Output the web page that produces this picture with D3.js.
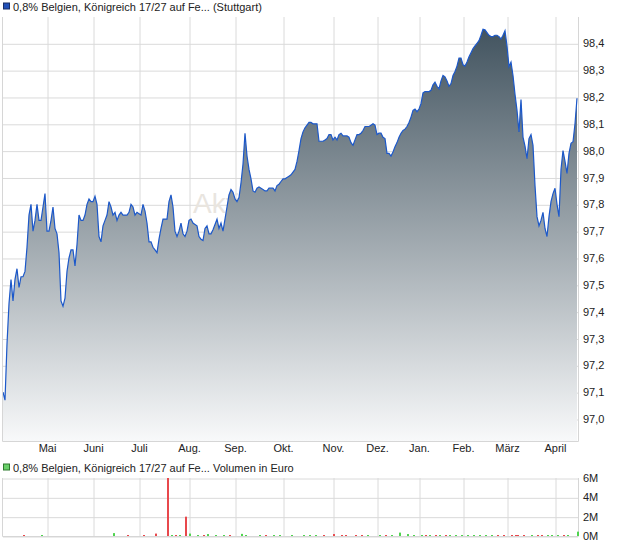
<!DOCTYPE html>
<html>
<head>
<meta charset="utf-8">
<script src="https://cdn.jsdelivr.net/npm/d3@7"></script>
<style>
  body { margin: 0; background: #fff; }
  text { font-family: "Liberation Sans", Arial, sans-serif; }
</style>
</head>
<body>
<div id="chart"></div>
<script>
// daily closes, one per trading day (Apr .. Apr)
var prices = [
  97.10, 97.07, 97.28, 97.43, 97.52, 97.44, 97.52, 97.56, 97.49, 97.53,
  97.53, 97.55, 97.64, 97.76, 97.80, 97.70, 97.74, 97.80, 97.74, 97.74,
  97.79, 97.84, 97.70, 97.70, 97.74, 97.79, 97.71, 97.69, 97.62, 97.44,
  97.42, 97.45, 97.55, 97.60, 97.63, 97.63, 97.57, 97.65, 97.76, 97.74,
  97.74, 97.76, 97.80, 97.82, 97.81, 97.81, 97.83, 97.80, 97.68, 97.66,
  97.72, 97.74, 97.76, 97.81, 97.79, 97.76, 97.77, 97.74, 97.76, 97.77,
  97.76, 97.76, 97.76, 97.77, 97.80, 97.79, 97.76, 97.77, 97.765, 97.76,
  97.80, 97.775, 97.73, 97.66, 97.66, 97.64, 97.63, 97.62, 97.67, 97.71,
  97.745, 97.745, 97.745, 97.81, 97.835, 97.79, 97.70, 97.68, 97.70, 97.73,
  97.69, 97.68, 97.70, 97.74, 97.745, 97.73, 97.725, 97.72, 97.68, 97.67,
  97.665, 97.71, 97.72, 97.69, 97.69, 97.705, 97.725, 97.745, 97.71, 97.73,
  97.70, 97.745, 97.79, 97.835, 97.855, 97.845, 97.82, 97.81, 97.825, 97.88,
  97.95, 98.065, 97.98, 97.93, 97.895, 97.85, 97.845, 97.86, 97.865, 97.86,
  97.855, 97.85, 97.85, 97.86, 97.86, 97.86, 97.85, 97.87, 97.875, 97.885,
  97.895, 97.895, 97.90, 97.905, 97.91, 97.92, 97.93, 97.96, 98.00, 98.045,
  98.07, 98.085, 98.095, 98.105, 98.105, 98.10, 98.10, 98.10, 98.035, 98.035,
  98.035, 98.04, 98.045, 98.06, 98.06, 98.04, 98.05, 98.04, 98.06, 98.065,
  98.055, 98.055, 98.055, 98.05, 98.03, 98.02, 98.04, 98.06, 98.06, 98.065,
  98.075, 98.09, 98.09, 98.09, 98.095, 98.10, 98.095, 98.06, 98.065, 98.065,
  98.05, 98.045, 97.99, 97.99, 97.98, 97.995, 98.015, 98.03, 98.05, 98.065,
  98.075, 98.08, 98.09, 98.105, 98.125, 98.15, 98.155, 98.145, 98.155, 98.175,
  98.215, 98.22, 98.22, 98.22, 98.225, 98.245, 98.255, 98.24, 98.23, 98.26,
  98.28, 98.275, 98.26, 98.24, 98.25, 98.28, 98.295, 98.315, 98.345, 98.345,
  98.32, 98.315, 98.33, 98.35, 98.365, 98.38, 98.39, 98.40, 98.41, 98.43,
  98.452, 98.45, 98.44, 98.43, 98.425, 98.425, 98.43, 98.43, 98.425, 98.416,
  98.43, 98.447, 98.39, 98.313, 98.33, 98.28, 98.21, 98.15, 98.07, 98.19,
  98.05, 98.017, 97.97, 98.045, 98.06, 98.02, 97.87, 97.754, 97.72, 97.74,
  97.77, 97.71, 97.68, 97.754, 97.81, 97.84, 97.86, 97.80, 97.754, 97.93,
  98.00, 97.96, 97.915, 97.99, 98.027, 98.033, 98.10, 98.195
];

// first trading day of each month (index into prices)
var months = ['Mai', 'Juni', 'Juli', 'Aug.', 'Sep.', 'Okt.', 'Nov.', 'Dez.', 'Jan.', 'Feb.', 'März', 'April'];
var monthStart = [22, 45, 68, 93, 116, 140, 165, 187, 208, 230, 252, 276];

var priceTicks = [97.0, 97.1, 97.2, 97.3, 97.4, 97.5, 97.6, 97.7, 97.8, 97.9, 98.0, 98.1, 98.2, 98.3, 98.4];
var volTicks = [0, 2, 4, 6];

// turnover in Mio. Euro, only days with trades
var volDay = [10, 19, 55, 62, 70, 76, 82, 84, 86, 88, 91, 93, 97, 100, 102, 106, 110, 113, 119, 121,
  128, 131, 135, 138, 144, 150, 153, 156, 160, 165, 169, 171, 176, 179, 182, 188, 191, 194, 198, 202,
  205, 209, 211, 213, 216, 218, 221, 223, 226, 229, 232, 235, 238, 241, 244, 247, 250, 254, 256, 257,
  260, 264, 267, 269, 272, 274, 277, 280, 282, 287];
var volAmt = [0.08, 0.06, 0.3, 0.08, 0.1, 0.25, 6.0, 0.08, 0.06, 0.06, 2.0, 0.25, 0.1, 0.06, 0.2, 0.08, 0.06, 0.06, 0.22, 0.08,
  0.08, 0.1, 0.06, 0.06, 0.05, 0.06, 0.06, 0.05, 0.06, 0.2, 0.06, 0.06, 0.05, 0.08, 0.06, 0.06, 0.06, 0.06, 0.35, 0.2,
  0.08, 0.06, 0.06, 0.05, 0.06, 0.06, 0.06, 0.06, 0.05, 0.06, 0.05, 0.06, 0.06, 0.05, 0.06, 0.06, 0.06, 0.08, 0.06, 0.06,
  0.05, 0.06, 0.06, 0.06, 0.06, 0.05, 0.06, 0.05, 0.06, 0.45];
var volUp = [0, 1, 1, 0, 0, 0, 0, 1, 0, 1, 0, 1, 1, 0, 1, 1, 1, 0, 1, 1,
  1, 0, 1, 1, 1, 1, 1, 1, 0, 0, 0, 0, 0, 0, 1, 1, 0, 1, 1, 1,
  1, 1, 0, 1, 0, 1, 0, 1, 1, 1, 1, 1, 1, 1, 1, 0, 0, 0, 0, 0,
  0, 1, 0, 0, 1, 1, 1, 0, 1, 1];

var width = 620, height = 546;
var left = 3, right = 578;
var top1 = 17, bottom1 = 441;
var top2 = 478, bottom2 = 536;

var de = d3.formatLocale({decimal: ',', thousands: '.', grouping: [3], currency: ['', ' €']});
var fmt = de.format('.1f');

var svg = d3.select('#chart')
            .append('svg')
            .attr('width', width)
            .attr('height', height);

var x = d3.scaleLinear()
    .domain([0, prices.length - 1])
    .range([left, 577]);

var y = d3.scaleLinear()
    .domain([96.918, 98.498])
    .range([bottom1, top1]);

var yv = d3.scaleLinear()
    .domain([0, 6])
    .range([bottom2, top2]);

// gradient for the area
var grad = svg.append('defs').append('linearGradient')
    .attr('id', 'fade')
    .attr('gradientUnits', 'userSpaceOnUse')
    .attr('x1', 0).attr('x2', 0)
    .attr('y1', top1).attr('y2', bottom1);
grad.append('stop').attr('offset', 0).attr('stop-color', '#3d4f5b');
grad.append('stop').attr('offset', 1).attr('stop-color', '#f8f9fa');

// legend lines
function legend(yy, col, border, label) {
    svg.append('rect')
        .attr('x', 3.5).attr('y', yy - 7.5)
        .attr('width', 6).attr('height', 6)
        .attr('fill', col)
        .attr('stroke', border);
    svg.append('text')
        .attr('x', 13).attr('y', yy)
        .attr('font-size', 11)
        .attr('fill', '#222')
        .text(label);
}
legend(10.5, '#2150b8', '#1a2f66', '0,8% Belgien, Königreich 17/27 auf Fe... (Stuttgart)');
legend(471.5, '#6ad06a', '#2f7a2f', '0,8% Belgien, Königreich 17/27 auf Fe... Volumen in Euro');

function styleAxis(g) {
    g.select('.domain').remove();
    g.selectAll('line').attr('stroke', '#dadada');
    g.selectAll('text').attr('fill', '#222').attr('font-size', 11).attr('font-family', '"Liberation Sans", Arial, sans-serif');
}

// price panel
var main = svg.append('g');

main.append('g')
    .attr('transform', 'translate(' + right + ',0)')
    .call(d3.axisRight(y).tickValues(priceTicks).tickSize(-(right - left)).tickPadding(5).tickFormat(fmt))
    .call(styleAxis)
    .selectAll('line').attr('transform', 'translate(0,0.5)');

main.append('g')
    .attr('transform', 'translate(0,' + bottom1 + ')')
    .call(d3.axisBottom(x).tickValues(monthStart).tickSize(-(bottom1 - top1)).tickPadding(3)
        .tickFormat(function(d, i) { return months[i]; }))
    .call(styleAxis)
    .selectAll('line').attr('transform', 'translate(0.5,0)');

main.append('text')
    .attr('x', 193).attr('y', 213)
    .attr('font-size', 28)
    .attr('fill', '#e9e5df')
    .text('Aktiencheck');

var area = d3.area()
    .x(function(d, i) { return x(i); })
    .y0(bottom1)
    .y1(function(d) { return y(d); });

var line = d3.line()
    .x(function(d, i) { return x(i); })
    .y(function(d) { return y(d); });

main.append('path')
    .datum(prices)
    .attr('d', area)
    .attr('fill', 'url(#fade)');

main.append('path')
    .datum(prices)
    .attr('d', line)
    .attr('fill', 'none')
    .attr('stroke', '#1c58c9')
    .attr('stroke-width', 1.2);

// frame
main.append('path')
    .attr('d', 'M' + (left - 0.5) + ',' + top1 + 'V' + (bottom1 + 0.5) + 'H' + (right + 0.5) + 'V' + top1)
    .attr('fill', 'none')
    .attr('stroke', '#d6d6d6');

// volume panel
var vol = svg.append('g');

vol.append('g')
    .attr('transform', 'translate(' + right + ',0)')
    .call(d3.axisRight(yv).tickValues(volTicks).tickSize(-(right - left)).tickPadding(5)
        .tickFormat(function(d) { return d + 'M'; }))
    .call(styleAxis)
    .selectAll('line').attr('transform', 'translate(0,0.5)');

vol.append('g')
    .attr('transform', 'translate(0,' + bottom2 + ')')
    .call(d3.axisBottom(x).tickValues(monthStart).tickSize(-(bottom2 - top2)).tickFormat(''))
    .call(styleAxis)
    .selectAll('line').attr('transform', 'translate(0.5,0)');

vol.append('path')
    .attr('d', 'M' + (left - 0.5) + ',' + top2 + 'V' + (bottom2 + 0.5) + 'H' + (right + 0.5) + 'V' + top2)
    .attr('fill', 'none')
    .attr('stroke', '#d6d6d6');

vol.selectAll('.bar')
    .data(volDay)
    .enter()
    .append('rect')
    .classed('bar', true)
    .attr('x', function(d) { return Math.round(x(d)); })
    .attr('width', 2)
    .attr('y', function(d, i) { return Math.min(yv(volAmt[i]), bottom2 - 1); })
    .attr('height', function(d, i) { return Math.max(bottom2 - yv(volAmt[i]), 1); })
    .attr('fill', function(d, i) { return volUp[i] ? '#4fd44f' : '#e8484c'; });
</script>
</body>
</html>
